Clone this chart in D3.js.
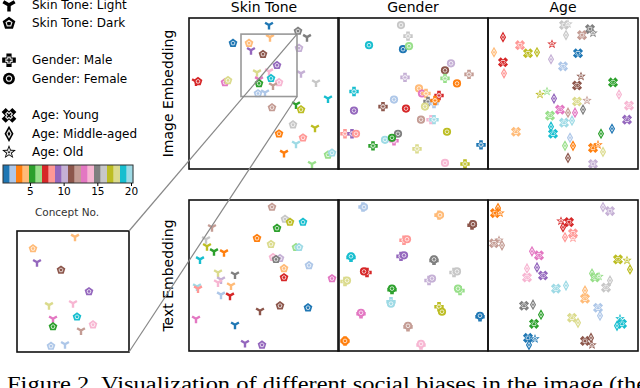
<!DOCTYPE html>
<html><head><meta charset="utf-8">
<script src="https://cdn.jsdelivr.net/npm/d3@7"></script>
<style>body{margin:0;background:#fff}svg{display:block}text{font-family:"DejaVu Sans",sans-serif}</style>
</head><body><svg id="c" width="640" height="388"></svg>
<script>
// ---------------- data ----------------
const conceptColors = ["#1f77b4","#aec7e8","#ff7f0e","#ffbb78","#2ca02c","#98df8a","#d62728","#ff9896","#9467bd","#c5b0d5","#8c564b","#c49c94","#e377c2","#f7b6d2","#7f7f7f","#c7c7c7","#bcbd22","#dbdb8d","#17becf","#9edae5"];
const columnTitles = ["Skin Tone","Gender","Age"];
const rowTitles = ["Image Embedding","Text Embedding"];
const colorbarTicks = [5,10,15,20];
const legendItems = [["L","Skin Tone: Light"],["D","Skin Tone: Dark"],null,["M","Gender: Male"],["F","Gender: Female"],null,["Y","Age: Young"],["A","Age: Middle-aged"],["O","Age: Old"]];
// [concept, group, x, y] in embedding coords (0..150)
const skinImage = [[1,"L",80,7],[4,"L",81,19],[15,"D",109,13],[15,"L",118,19],[1,"D",44,25],[4,"D",60,25],[9,"L",62,32],[11,"D",74,36],[10,"D",110,30],[9,"D",88,47],[18,"L",68,54],[14,"L",80,53],[10,"L",112,55],[7,"L",7,63],[7,"D",9,63],[13,"D",36,64],[18,"D",39,62],[13,"L",70,61],[5,"D",70,65],[19,"D",82,60],[14,"D",90,64],[12,"L",84,67],[2,"D",69,75],[2,"L",76,74],[16,"L",127,64],[19,"L",139,80],[12,"D",83,89],[5,"L",107,86],[17,"D",112,91],[16,"D",104,106],[17,"L",126,109],[3,"D",90,115],[8,"D",114,119],[20,"L",107,125],[3,"L",95,134],[6,"D",139,136],[20,"D",143,134],[6,"L",123,145]];
const genderImage = [[16,"F",63,7],[16,"M",70,18],[19,"F",31,27],[1,"F",65,31],[6,"F",71,28],[10,"F",113,45],[11,"F",107,52],[12,"M",131,56],[6,"M",107,60],[10,"M",67,59],[3,"F",119,65],[19,"M",16,73],[4,"F",81,70],[13,"F",84,75],[4,"M",88,75],[7,"M",101,77],[15,"M",90,83],[2,"M",96,85],[3,"M",97,82],[18,"F",87,88],[2,"F",56,81],[11,"M",45,88],[7,"F",68,90],[9,"F",16,92],[12,"F",83,101],[14,"M",93,101],[20,"M",96,101],[17,"F",109,113],[8,"M",7,115],[9,"M",14,115],[8,"F",18,115],[15,"F",60,115],[20,"F",47,121],[13,"M",56,122],[5,"F",54,119],[5,"M",35,127],[18,"M",79,130],[1,"M",143,126],[14,"F",107,144],[17,"M",127,145]];
const ageImage = [[16,"Y",76,7],[16,"O",80,6],[16,"A",78,17],[15,"Y",102,11],[15,"O",105,15],[12,"Y",94,17],[7,"A",15,19],[8,"Y",32,27],[7,"O",64,26],[4,"A",6,34],[17,"Y",40,35],[17,"A",49,34],[1,"Y",90,35],[10,"A",63,41],[7,"Y",15,44],[2,"Y",75,48],[8,"A",16,55],[11,"O",93,58],[11,"Y",89,67],[5,"Y",125,64],[17,"O",52,76],[6,"O",59,73],[9,"A",66,80],[18,"Y",89,83],[12,"O",99,82],[14,"A",131,76],[14,"Y",141,87],[13,"Y",72,91],[12,"A",80,94],[13,"A",87,94],[15,"A",95,91],[6,"Y",62,97],[9,"Y",139,101],[20,"Y",76,104],[20,"A",84,102],[19,"A",63,108],[19,"Y",65,115],[4,"Y",28,113],[1,"A",124,110],[5,"A",113,115],[2,"A",82,119],[6,"A",77,127],[3,"A",85,127],[3,"Y",105,129],[3,"O",110,126],[18,"A",115,133],[11,"A",80,139],[10,"Y",105,145]];
const skinText = [[12,"D",83,7],[16,"D",96,19],[17,"D",101,22],[19,"D",114,22],[5,"D",88,28],[12,"L",23,27],[3,"D",68,38],[16,"L",17,39],[17,"L",18,46],[5,"L",25,51],[3,"L",35,52],[18,"D",82,44],[6,"D",107,47],[20,"D",110,47],[19,"L",11,59],[14,"D",84,57],[10,"D",91,58],[15,"D",87,59],[4,"D",95,68],[2,"D",120,65],[7,"D",95,77],[13,"D",143,78],[18,"L",29,72],[15,"L",46,74],[10,"L",32,79],[14,"L",29,82],[20,"L",8,86],[8,"L",9,88],[4,"L",42,85],[2,"L",32,94],[7,"L",41,95],[11,"D",91,105],[1,"D",119,107],[11,"L",71,110],[13,"L",7,118],[1,"L",46,124],[9,"L",56,142],[9,"D",73,144]];
const genderText = [[2,"M",25,7],[2,"F",26,7],[4,"M",101,15],[4,"F",102,15],[11,"M",134,25],[11,"F",135,24],[8,"M",66,40],[8,"F",69,39],[19,"M",13,57],[19,"F",13,56],[9,"M",63,56],[9,"F",66,55],[15,"M",96,60],[15,"F",96,59],[7,"M",29,72],[7,"F",26,71],[16,"M",116,72],[16,"F",119,71],[18,"M",7,81],[18,"F",9,80],[10,"M",91,80],[10,"F",94,78],[5,"M",54,89],[5,"F",54,88],[6,"M",122,90],[6,"F",120,88],[20,"M",53,101],[20,"F",53,103],[17,"M",101,106],[17,"F",104,111],[13,"M",23,113],[13,"F",23,112],[1,"M",142,116],[1,"F",142,115],[12,"M",70,126],[12,"F",70,125],[3,"M",7,140],[3,"F",7,140],[14,"M",83,144],[14,"F",83,143]];
const ageText = [[3,"A",10,8],[3,"Y",7,13],[3,"O",12,13],[10,"A",115,7],[10,"Y",122,11],[7,"O",73,21],[7,"Y",81,22],[7,"A",75,27],[8,"A",77,37],[8,"Y",85,33],[8,"O",85,38],[12,"O",11,40],[12,"Y",6,43],[12,"A",14,45],[13,"A",44,51],[13,"Y",51,55],[17,"Y",130,59],[17,"O",139,60],[17,"A",142,69],[14,"A",39,68],[14,"Y",39,77],[9,"A",49,67],[9,"Y",55,75],[6,"A",104,73],[6,"Y",107,77],[6,"O",111,76],[16,"A",122,80],[16,"Y",118,87],[20,"Y",68,88],[20,"A",78,85],[4,"A",97,90],[4,"Y",97,98],[15,"Y",36,105],[15,"A",45,104],[2,"Y",110,107],[2,"A",112,115],[5,"A",53,114],[5,"Y",46,123],[18,"Y",84,117],[18,"A",90,122],[19,"O",132,118],[19,"Y",134,123],[19,"A",129,125],[1,"Y",40,137],[1,"O",47,138],[1,"A",41,144],[11,"Y",97,140],[11,"A",103,137],[11,"O",104,144]];
const insetDomainX = [52,108], insetDomainY = [16,78];

// ---------------- markers ----------------
function poly(pts){return "M"+pts.map(p=>p[0].toFixed(2)+","+p[1].toFixed(2)).join("L")+"Z";}
function pentagon(r){return poly(d3.range(5).map(k=>{const a=(-90+72*k)*Math.PI/180;return [r*Math.cos(a),r*Math.sin(a)];}));}
function plus(r){const w=r*0.38;return poly([[-w,-r],[w,-r],[w,-w],[r,-w],[r,w],[w,w],[w,r],[-w,r],[-w,w],[-r,w],[-r,-w],[-w,-w]]);}
function xfilled(r){const w=r*0.38, pts=[[-w,-r],[w,-r],[w,-w],[r,-w],[r,w],[w,w],[w,r],[-w,r],[-w,w],[-r,w],[-r,-w],[-w,-w]];const c=Math.SQRT1_2;return poly(pts.map(p=>[(p[0]-p[1])*c,(p[0]+p[1])*c]));}
function circle(r){return `M${r},0A${r},${r} 0 1,1 ${-r},0A${r},${r} 0 1,1 ${r},0Z`;}
function diamond(r){return poly([[0,-r],[0.55*r,0],[0,r],[-0.55*r,0]]);}
function star(r){return poly(d3.range(10).map(k=>{const a=(-90+36*k)*Math.PI/180, rr=k%2?r*0.42:r;return [rr*Math.cos(a),rr*Math.sin(a)];}));}
function tri(r){return `M0,0L0,${r}M0,0L${-0.87*r},${-0.5*r}M0,0L${0.87*r},${-0.5*r}`;}
const shapes = {L:tri, D:pentagon, M:plus, F:circle, Y:xfilled, A:diamond, O:star};
const sizes = {L:4.5, D:4.6, M:4.7, F:4.1, Y:5.2, A:5.6, O:5.0};

function drawMarker(g, type, color, cx, cy, scale){
  const s = scale||1, r = sizes[type]*s;
  const gg = g.append("g").attr("transform",`translate(${cx},${cy})`);
  if(type==="L"){
    gg.append("path").attr("d",tri(r)).attr("stroke",color).attr("stroke-width",2.4*s).attr("fill","none");
  } else {
    gg.append("path").attr("d",shapes[type](r)).attr("fill",color);
    gg.append("path").attr("d",shapes[type](r*0.45)).attr("fill","none").attr("stroke","#fff").attr("stroke-width",0.8*s).attr("opacity",0.9);
  }
}

// ---------------- layout ----------------
const svg = d3.select("#c");
const colX = [189,338,488], rowY = [18,200], PW=150, PH=151;
const panelData = [[skinImage,genderImage,ageImage],[skinText,genderText,ageText]];
const defs = svg.append("defs");

panelData.forEach((row,ri)=>row.forEach((data,ci)=>{
  const x = d3.scaleLinear().domain([0,150]).range([colX[ci],colX[ci]+PW]);
  const y = d3.scaleLinear().domain([0,150]).range([rowY[ri],rowY[ri]+PH]);
  const id = `clip${ri}${ci}`;
  defs.append("clipPath").attr("id",id).append("rect").attr("x",colX[ci]).attr("y",rowY[ri]).attr("width",PW).attr("height",PH);
  const g = svg.append("g").attr("clip-path",`url(#${id})`);
  data.forEach(d=>drawMarker(g,d[1],conceptColors[d[0]-1],x(d[2]),y(d[3])));
  if(ri===0 && ci===0){
    svg.append("rect").attr("x",x(insetDomainX[0])).attr("y",y(insetDomainY[0]))
      .attr("width",x(insetDomainX[1])-x(insetDomainX[0])).attr("height",y(insetDomainY[1])-y(insetDomainY[0]))
      .attr("fill","none").attr("stroke","#999").attr("stroke-width",1.6);
  }
}));
// panel frames
panelData.forEach((row,ri)=>row.forEach((d,ci)=>{
  svg.append("rect").attr("x",colX[ci]).attr("y",rowY[ri]).attr("width",PW).attr("height",PH)
    .attr("fill","none").attr("stroke","#111").attr("stroke-width",1.6);
}));
// titles
columnTitles.forEach((t,i)=>svg.append("text").attr("x",colX[i]+PW/2).attr("y",12).attr("text-anchor","middle").attr("font-size",14).text(t));
rowTitles.forEach((t,i)=>svg.append("text").attr("transform",`translate(173,${rowY[i]+PH/2}) rotate(-90)`).attr("text-anchor","middle").attr("font-size",14).text(t));

// inset
const ix = d3.scaleLinear().domain(insetDomainX).range([17,129]);
const iy = d3.scaleLinear().domain(insetDomainY).range([231,352]);
defs.append("clipPath").attr("id","clipInset").append("rect").attr("x",17).attr("y",231).attr("width",112).attr("height",121);
const ig = svg.append("g").attr("clip-path","url(#clipInset)");
skinImage.filter(d=>d[2]>=insetDomainX[0]&&d[2]<=insetDomainX[1]&&d[3]>=insetDomainY[0]&&d[3]<=insetDomainY[1])
  .forEach(d=>drawMarker(ig,d[1],conceptColors[d[0]-1],ix(d[2]),iy(d[3])));
svg.append("rect").attr("x",17).attr("y",231).attr("width",112).attr("height",121).attr("fill","none").attr("stroke","#111").attr("stroke-width",1.6);
// connector lines
const mx = d3.scaleLinear().domain([0,150]).range([colX[0],colX[0]+PW]);
const my = d3.scaleLinear().domain([0,150]).range([rowY[0],rowY[0]+PH]);
svg.append("line").attr("x1",129).attr("y1",231).attr("x2",mx(insetDomainX[1])).attr("y2",my(insetDomainY[0])).attr("stroke","#888").attr("stroke-width",1.2);
svg.append("line").attr("x1",129).attr("y1",352).attr("x2",mx(insetDomainX[1])).attr("y2",my(insetDomainY[1])).attr("stroke","#888").attr("stroke-width",1.2);

// legend
legendItems.forEach((it,i)=>{
  if(!it) return;
  const yy = 5 + i*18.4;
  drawMarker(svg,it[0],"#000",9,yy,1.45);
  svg.append("text").attr("x",32).attr("y",yy+4).attr("font-size",12).text(it[1]);
});
// colorbar
const cb = d3.scaleLinear().domain([1,20]).range([3,131]);
const bandW = 130/20;
svg.append("g").selectAll("rect").data(conceptColors).join("rect")
  .attr("x",(d,i)=>3+i*bandW).attr("y",165).attr("width",bandW+0.3).attr("height",18).attr("fill",d=>d);
svg.append("rect").attr("x",3).attr("y",165).attr("width",130).attr("height",18).attr("fill","none").attr("stroke","#333").attr("stroke-width",1);
const cax = svg.append("g").attr("transform","translate(0,183)").call(d3.axisBottom(cb).tickValues(colorbarTicks).tickSize(3).tickPadding(2));
cax.select(".domain").remove();
cax.selectAll("text").attr("font-size",10.5).attr("font-family","DejaVu Sans");
svg.append("text").attr("x",67).attr("y",216).attr("text-anchor","middle").attr("font-size",10.5).attr("fill","#333").text("Concept No.");

// caption
svg.append("text").attr("x",7).attr("y",391).attr("font-size",20).attr("textLength",640).attr("lengthAdjust","spacingAndGlyphs")
  .style("font-family","'Liberation Serif',serif").text("Figure 2. Visualization of different social biases in the image (the");
</script></body></html>
